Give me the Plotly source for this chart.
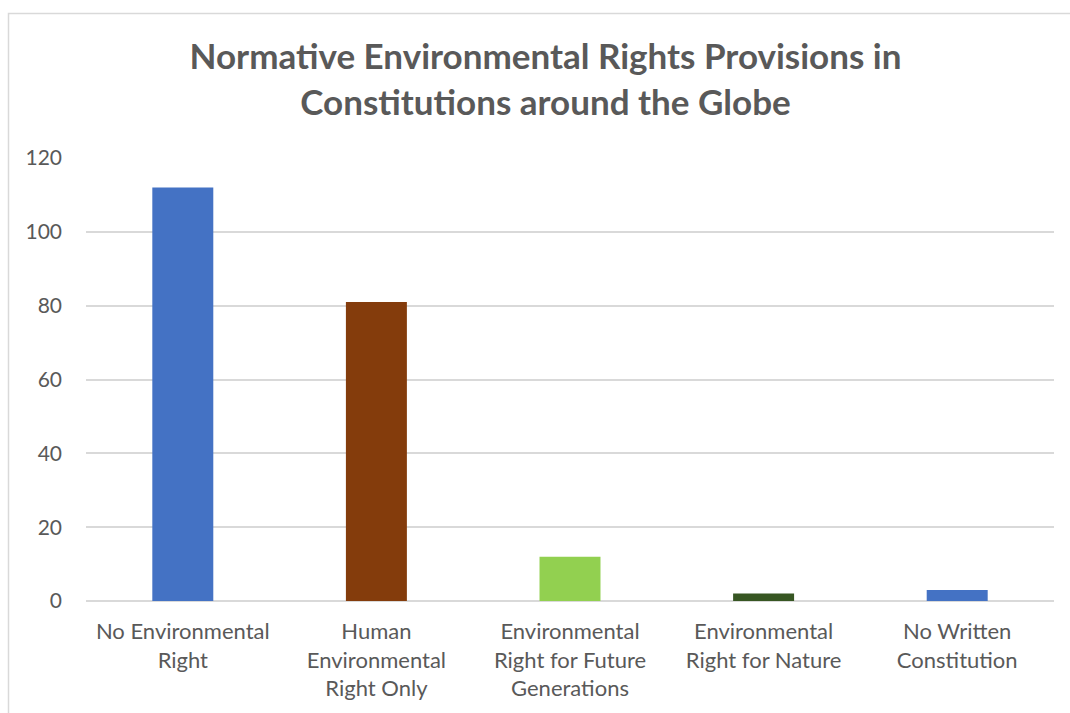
import plotly.graph_objects as go

categories = [
    "No Environmental<br>Right",
    "Human<br>Environmental<br>Right Only",
    "Environmental<br>Right for Future<br>Generations",
    "Environmental<br>Right for Nature",
    "No Written<br>Constitution",
]
values = [112, 81, 12, 2, 3]
bar_colors = ["#4472C4", "#843C0C", "#92D050", "#375623", "#4472C4"]
y_ticks = [0, 20, 40, 60, 80, 100, 120]

FONT = "Lato, Carlito, Calibri, sans-serif"
TXT = "#595959"
GRID = "#D9D9D9"

fig = go.Figure(
    go.Bar(
        x=categories,
        y=values,
        marker=dict(color=bar_colors, line=dict(width=0)),
    )
)

L, R, T, B = 86, 16, 158, 112
W, H = 1070, 713
pw, ph = W - L - R, H - T - B

fig.update_layout(
    width=W,
    height=H,
    margin=dict(l=L, r=R, t=T, b=B, pad=0),
    paper_bgcolor="white",
    plot_bgcolor="white",
    bargap=0.685,
    showlegend=False,
    font=dict(family=FONT, color=TXT, size=20),
    title=dict(
        text="<b>Normative Environmental Rights Provisions in<br>Constitutions around the Globe</b>",
        x=545.5 / W,
        xanchor="center",
        xref="container",
        y=1 - 69 / H,
        yanchor="middle",
        font=dict(family=FONT, size=35, color=TXT),
    ),
    xaxis=dict(
        showgrid=False,
        showline=False,
        ticks="",
        tickfont=dict(size=22, color=TXT),
        ticklabelstandoff=15,
    ),
    yaxis=dict(
        range=[0, 120],
        tickvals=y_ticks,
        showgrid=True,
        gridcolor=GRID,
        gridwidth=1.5,
        zeroline=True,
        zerolinecolor=GRID,
        zerolinewidth=2,
        showline=False,
        ticks="",
        tickfont=dict(size=21, color=TXT),
        ticklabelstandoff=23,
    ),
    shapes=[
        dict(
            type="rect",
            xref="paper",
            yref="paper",
            x0=(8.5 - L) / pw,
            x1=(W + 20 - L) / pw,
            y0=-(B + 20) / ph,
            y1=(H - B - 13.5) / ph,
            line=dict(color=GRID, width=1.5),
            fillcolor="rgba(0,0,0,0)",
            layer="below",
        )
    ],
)

fig.write_html("out.html")
